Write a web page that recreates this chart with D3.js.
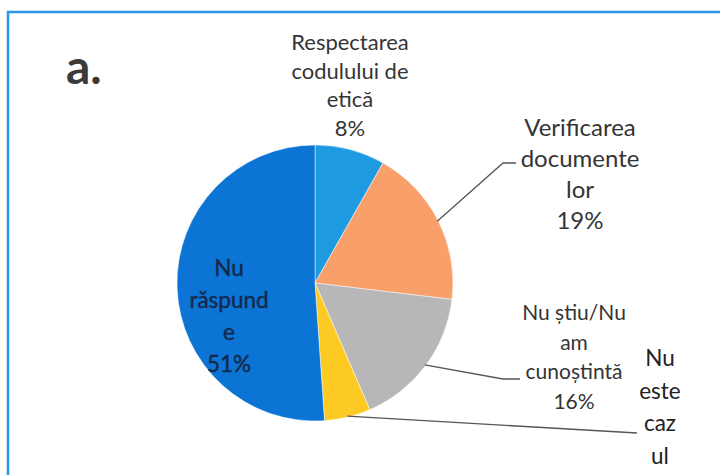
<!DOCTYPE html>
<html lang="ro">
<head>
<meta charset="utf-8">
<style>
    body { margin: 0; background: #fff; }
    svg { display: block; }
    .lbl { font-family: Lato, "Open Sans", sans-serif; fill: #353535; text-anchor: middle; }
</style>
</head>
<body>
<svg width="720" height="475"></svg>
<script src="https://cdn.jsdelivr.net/npm/d3@7"></script>
<script>
    // slices clockwise from 12 o'clock
    var categories = ["Respectarea codulului de etică", "Verificarea documentelor", "Nu știu/Nu am cunoștintă", "Nu este cazul", "Nu răspunde"];
    var values = [8.2, 18.7, 16.6, 5.4, 51.1];
    var pctLabels = ["8%", "19%", "16%", "", "51%"];
    // label text broken the way the chart shows it
    var labelLines = [
        ["Respectarea", "codulului de", "etică", "8%"],
        ["Verificarea", "documente", "lor", "19%"],
        ["Nu știu/Nu", "am", "cunoștintă", "16%"],
        ["Nu", "este", "caz", "ul"],
        ["Nu", "răspund", "e", "51%"]
    ];
    var colors = ["#1d9ae0", "#f89f6a", "#b7b7b7", "#fdca24", "#0b74d5"];

    var svg = d3.select("svg");

    // frame
    svg.append("rect")
        .attr("x", 8).attr("y", 12)
        .attr("width", 740).attr("height", 480)
        .attr("fill", "none")
        .attr("stroke", "#2c95e6")
        .attr("stroke-width", 2.5);

    svg.append("text")
        .attr("x", 66).attr("y", 84)
        .attr("font-family", "Lato, sans-serif")
        .attr("font-weight", "bold")
        .attr("font-size", 48)
        .attr("fill", "#3a3a3a")
        .text("a.");

    var cx = 315, cy = 283, r = 138;
    var g = svg.append("g").attr("transform", "translate(" + cx + "," + cy + ")");

    var pie = d3.pie().sort(null).value(function (d) { return d; });
    var arcs = pie(values);
    var arc = d3.arc().innerRadius(0).outerRadius(r);
    var edge = d3.arc().innerRadius(r - 1).outerRadius(r - 1);

    g.selectAll("path.slice")
        .data(arcs)
        .enter().append("path")
        .attr("class", "slice")
        .attr("d", arc)
        .attr("fill", function (d, i) { return colors[i]; })
        .attr("stroke", "#ffffff")
        .attr("stroke-opacity", 0.6)
        .attr("stroke-width", 0.8);

    // label placement (layout only): centre x, first baseline, line step, size
    var layout = [
        { x: 350, y: 50, step: 28.5, size: 22 },
        { x: 580, y: 136, step: 31, size: 24 },
        { x: 574, y: 320, step: 29.5, size: 21 },
        { x: 660, y: 366, step: 32.5, size: 22.5, fill: "#222" },
        { x: 229, y: 276, step: 32, size: 22.5, fill: "#13294a", stroke: "#13294a" }
    ];
    // leader lines: bend point / end point relative to page
    var leaders = [
        null,
        [[503, 163], [516, 163]],
        [[503, 379], [520, 379]],
        [[637, 433]],
        null
    ];

    var line = d3.line();
    arcs.forEach(function (a, i) {
        if (!leaders[i]) return;
        var p = edge.centroid(a);
        var pts = [[cx + p[0], cy + p[1]]].concat(leaders[i]);
        svg.append("path")
            .attr("d", line(pts))
            .attr("fill", "none")
            .attr("stroke", "#555")
            .attr("stroke-width", 1.3);
    });

    labelLines.forEach(function (lines, i) {
        var L = layout[i];
        var t = svg.append("text")
            .attr("class", "lbl")
            .attr("font-size", L.size)
            .style("fill", L.fill || null);
        if (L.stroke) t.attr("stroke", L.stroke).attr("stroke-width", 0.4);
        lines.forEach(function (s, k) {
            t.append("tspan")
                .attr("x", L.x)
                .attr("y", L.y + k * L.step)
                .text(s);
        });
    });
</script>
</body>
</html>
